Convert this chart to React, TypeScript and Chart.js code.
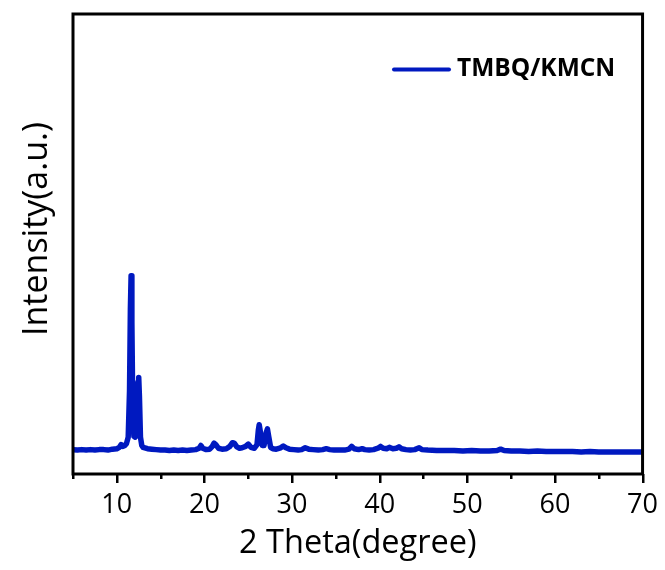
import React, { useEffect, useRef } from 'react';
import { Chart, registerables } from 'chart.js';

Chart.register(...registerables);

const seriesLabel = 'TMBQ/KMCN';
const xTitle = '2 Theta(degree)';
const yTitle = 'Intensity(a.u.)';
const majorTicks = [10, 20, 30, 40, 50, 60, 70];
const minorTicks = [5, 15, 25, 35, 45, 55, 65];

const twoTheta = [
  5.0, 5.5, 6.0, 6.5, 7.0, 7.5, 8.0, 8.5, 9.0, 9.5, 10.0, 10.3, 10.5, 10.7, 10.9, 11.1, 11.3, 11.45, 11.55, 11.63,
  11.72, 11.82, 11.95, 12.1, 12.3, 12.42, 12.5, 12.58, 12.7, 12.85, 13.0, 13.5, 14.0, 14.5, 15.0, 15.5, 16.0, 16.5, 17.0, 17.5,
  18.0, 18.5, 19.0, 19.4, 19.6, 19.8, 20.2, 20.6, 20.9, 21.1, 21.3, 21.6, 22.0, 22.5, 22.9, 23.2, 23.4, 23.7, 24.0, 24.3,
  24.7, 25.0, 25.3, 25.7, 26.0, 26.15, 26.25, 26.4, 26.6, 26.8, 27.05, 27.19, 27.35, 27.55, 27.8, 28.2, 28.7, 29.0, 29.3, 29.7,
  30.2, 30.7, 31.1, 31.5, 31.9, 32.4, 33.0, 33.5, 33.9, 34.3, 34.8, 35.4, 36.0, 36.5, 36.8, 37.1, 37.6, 38.0, 38.3, 38.8,
  39.3, 39.8, 40.1, 40.4, 40.8, 41.1, 41.5, 41.9, 42.2, 42.5, 43.0, 43.5, 44.0, 44.5, 44.8, 45.5, 46.5, 47.5, 48.5, 49.5,
  50.5, 51.5, 52.5, 53.4, 53.8, 54.2, 55.0, 56.0, 57.0, 58.0, 59.0, 60.0, 61.0, 62.0, 63.0, 64.0, 65.0, 66.0, 67.0, 68.0,
  69.0, 70.0,
];

const intensity = [
  53, 52, 53, 52, 53, 52, 53, 53, 52, 54, 55, 58, 64, 60, 62, 66, 80, 180, 360, 431,
  330, 140, 82, 80, 120, 200, 210, 170, 80, 62, 58, 55, 54, 53, 52, 52, 51, 52, 51, 52,
  51, 52, 53, 56, 62, 56, 53, 54, 60, 67, 64, 56, 54, 55, 60, 68, 67, 59, 56, 57,
  60, 65, 58, 56, 64, 95, 107, 90, 62, 62, 90, 98, 80, 58, 55, 54, 57, 61, 57, 54,
  53, 52, 53, 57, 54, 53, 52, 53, 55, 53, 52, 52, 52, 54, 60, 55, 53, 55, 53, 52,
  53, 56, 60, 56, 55, 58, 55, 56, 59, 55, 53, 52, 53, 57, 53, 52, 51, 51, 51, 50,
  51, 50, 50, 51, 54, 51, 50, 50, 49, 50, 49, 49, 49, 49, 48, 49, 48, 48, 48, 48,
  48, 48,
];

const FONT = "'Open Sans', 'DejaVu Sans', sans-serif";
const LINE_COLOR = '#0019c0';

export default function App() {
  const ref = useRef<HTMLCanvasElement>(null);

  useEffect(() => {
    if (!ref.current) return;

    const decorPlugin = {
      id: 'decor',
      afterDraw(chart: any) {
        const { ctx, chartArea: a, scales } = chart;
        const xs = scales.x;
        ctx.save();
        // frame
        ctx.strokeStyle = '#000';
        ctx.lineWidth = 3;
        ctx.strokeRect(a.left, a.top, a.right - a.left, a.bottom - a.top);
        // ticks
        ctx.lineWidth = 2.5;
        ctx.beginPath();
        for (const v of majorTicks) {
          const px = Math.round(xs.getPixelForValue(v)) + 0.25;
          ctx.moveTo(px, a.bottom);
          ctx.lineTo(px, a.bottom + 9);
        }
        for (const v of minorTicks) {
          const px = Math.round(xs.getPixelForValue(v)) + 0.25;
          ctx.moveTo(px, a.bottom);
          ctx.lineTo(px, a.bottom + 5);
        }
        ctx.stroke();
        // legend
        ctx.strokeStyle = LINE_COLOR;
        ctx.lineWidth = 4;
        ctx.lineCap = 'round';
        ctx.beginPath();
        ctx.moveTo(394, 69.5);
        ctx.lineTo(449, 69.5);
        ctx.stroke();
        ctx.fillStyle = '#000';
        ctx.font = `bold 24.5px ${FONT}`;
        ctx.textAlign = 'left';
        ctx.textBaseline = 'middle';
        ctx.fillText(seriesLabel, 457, 69.5);
        // y title
        ctx.translate(37, 229);
        ctx.rotate(-Math.PI / 2);
        ctx.font = `34px ${FONT}`;
        ctx.textAlign = 'center';
        ctx.textBaseline = 'middle';
        ctx.fillText(yTitle, 0, 0);
        ctx.restore();
      },
    };

    const chart = new Chart(ref.current, {
      type: 'line',
      data: {
        datasets: [
          {
            label: seriesLabel,
            data: twoTheta.map((x, i) => ({ x, y: intensity[i] })),
            borderColor: LINE_COLOR,
            backgroundColor: LINE_COLOR,
            borderWidth: 5.5,
            pointRadius: 0,
            tension: 0,
            fill: false,
            borderJoinStyle: 'round',
            borderCapStyle: 'round',
          },
        ],
      },
      options: {
        responsive: false,
        animation: false,
        devicePixelRatio: 1,
        layout: { padding: { top: 14, right: 21, left: 0, bottom: 0 } },
        plugins: {
          legend: { display: false },
          tooltip: { enabled: false },
        },
        scales: {
          x: {
            type: 'linear',
            min: 5,
            max: 70,
            afterBuildTicks: (scale: any) => {
              scale.ticks = majorTicks.map((v) => ({ value: v }));
            },
            afterFit: (scale: any) => {
              scale.height = 96;
            },
            grid: { display: false, drawTicks: true, tickLength: 8 },
            border: { display: false },
            ticks: {
              color: '#000',
              font: { family: FONT, size: 27 },
              padding: 7,
              maxRotation: 0,
              autoSkip: false,
            },
            title: {
              display: true,
              text: xTitle,
              color: '#000',
              font: { family: FONT, size: 32.5 },
              padding: { top: 0, bottom: 6.5 },
            },
          },
          y: {
            type: 'linear',
            min: 0,
            max: 1000,
            afterFit: (scale: any) => {
              scale.width = 73;
            },
            grid: { display: false },
            border: { display: false },
            ticks: { display: false },
          },
        },
      },
      plugins: [decorPlugin],
    } as any);

    return () => chart.destroy();
  }, []);

  return (
    <div style={{ position: 'fixed', left: 0, top: 0, width: 665, height: 570, background: '#fff' }}>
      <canvas ref={ref} width={665} height={570} />
    </div>
  );
}
